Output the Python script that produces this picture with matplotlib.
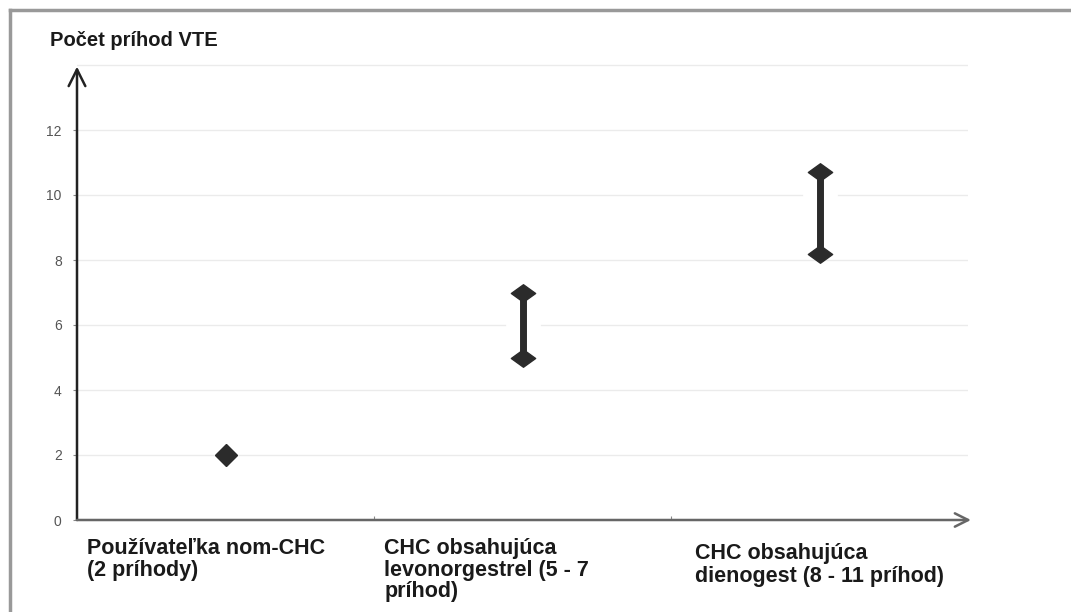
import matplotlib.pyplot as plt
import matplotlib.transforms as mtransforms
import numpy as np
from matplotlib.path import Path

plt.rcParams['font.family'] = ['Liberation Sans', 'DejaVu Sans']

# data
categories = ['Používateľka nom-CHC\n(2 príhody)',
              'CHC obsahujúca\nlevonorgestrel (5 - 7\npríhod)',
              'CHC obsahujúca\ndienogest (8 - 11 príhod)']
low = [2.0, 5.0, 8.2]
high = [2.0, 7.0, 10.7]
yticks = [0, 2, 4, 6, 8, 10, 12]
grid_levels = [2, 4, 6, 8, 10, 12, 14]

fig = plt.figure(figsize=(10.71, 6.12), dpi=100)
ax = fig.add_axes([77 / 1071, 92 / 612, 891 / 1071, 461.5 / 612])
ax.set_xlim(0, 3)
ax.set_ylim(0, 14.2)

for s in ax.spines.values():
    s.set_visible(False)

# light grid
for g in grid_levels:
    ax.axhline(g, color='#ebebeb', lw=1, zorder=0)

# flattened diamond for the range ends
flat_d = Path([(-1, 0), (0, 0.72), (1, 0), (0, -0.72), (-1, 0)],
              [Path.MOVETO, Path.LINETO, Path.LINETO, Path.LINETO, Path.CLOSEPOLY])

xs = np.arange(len(categories)) + 0.5
dark = '#2b2b2b'
for x, lo, hi in zip(xs, low, high):
    if hi > lo:
        ax.plot([x, x], [lo - 0.15, hi + 0.15], color='white', lw=25,
                solid_capstyle='butt', zorder=1)
        ax.plot([x, x], [lo, hi], color=dark, lw=5, solid_capstyle='butt', zorder=3)
        ax.plot([x, x], [lo, hi], marker=flat_d, ls='none', color=dark, ms=17.5, zorder=4)
    else:
        ax.plot([x], [lo], 'D', color=dark, ms=11.5, zorder=4)

# axes with arrows
ax.annotate('', xy=(0, 13.95), xytext=(0, 0), xycoords='data',
            arrowprops=dict(arrowstyle='->', color='#222222', lw=1.8,
                            mutation_scale=30, shrinkA=0, shrinkB=0),
            annotation_clip=False)
ax.annotate('', xy=(3.01, 0), xytext=(0, 0), xycoords='data',
            arrowprops=dict(arrowstyle='->', color='#666666', lw=1.8,
                            mutation_scale=24, shrinkA=0, shrinkB=0),
            annotation_clip=False)

ax.set_yticks(yticks)
ax.set_yticklabels([str(t) for t in yticks], fontsize=10, color='#555555')
ax.tick_params(axis='y', length=3, color='#888888', pad=8)
ax.set_xticks([0, 1, 2])
ax.set_xticklabels([])
ax.tick_params(axis='x', length=3, color='#888888', direction='in')

# the last label sits a bit further right / lower in the original
nudge_px = [(0, 0), (0, 0), (14, -5)]
for x, lab, (dx, dy) in zip(xs, categories, nudge_px):
    tr = ax.transData + mtransforms.ScaledTranslation(dx / 100, dy / 100, fig.dpi_scale_trans)
    ax.text(x - 0.465, -0.55, lab, ha='left', va='top', fontsize=15.5,
            fontweight='bold', color='#1a1a1a',
            linespacing=1.05 if dy == 0 else 1.12, transform=tr)

fig.text(50 / 1071, 1 - 40 / 612, 'Počet príhod VTE', ha='left', va='center',
         fontsize=14.5, fontweight='bold', color='#1a1a1a')

# outer frame (top and left edges visible)
fig.add_artist(plt.Line2D([10 / 1071, 1], [1 - 10 / 612, 1 - 10 / 612],
                          transform=fig.transFigure, color='#999999', lw=2.5))
fig.add_artist(plt.Line2D([10 / 1071, 10 / 1071], [0, 1 - 10 / 612],
                          transform=fig.transFigure, color='#999999', lw=2.5))

fig.savefig('out.png', dpi=100)
